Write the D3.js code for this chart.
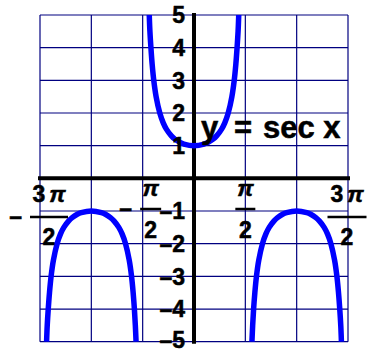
<!DOCTYPE html>
<html>
<head>
<meta charset="utf-8">
<script src="https://cdn.jsdelivr.net/npm/d3@7"></script>
<style>
    body { margin: 0; background: #fff; }
    svg { display: block; }
    text { stroke: black; stroke-width: 0.5px; }
</style>
</head>
<body>
<svg id="drawing_region"></svg>
<script>
const PI = Math.PI;

// grid lines: x in multiples of pi, y in units
const gridX = [-1.5, -1, -0.5, 0, 0.5, 1, 1.5];
const gridY = [-5, -4, -3, -2, -1, 0, 1, 2, 3, 4, 5];

// y tick labels
const yTicks = [5, 4, 3, 2, 1, -1, -2, -3, -4, -5];

// x tick labels (fractions of pi)
const xTicks = [-1.5, -0.5, 0.5, 1.5];
const xTickSign = ["\u2013", "\u2013", "", ""];
const xTickNum = ["3", "", "", "3"];
const xTickDen = ["2", "2", "2", "2"];

// points (x in radians)
const leftX  = [-4.511, -4.491, -4.460, -4.422, -4.373, -4.301, -4.189, -4.084, -3.983, -3.834, -3.728, -3.572, -3.451, -3.142,
                -2.833, -2.712, -2.556, -2.450, -2.301, -2.200, -2.095, -1.983, -1.911, -1.862, -1.824, -1.795, -1.773];
const leftY  = [-5, -4.5, -4, -3.5, -3, -2.5, -2, -1.7, -1.5, -1.3, -1.2, -1.1, -1.05, -1,
                -1.05, -1.1, -1.2, -1.3, -1.5, -1.7, -2, -2.5, -3, -3.5, -4, -4.5, -5];
const midX   = [-1.369, -1.349, -1.318, -1.281, -1.231, -1.159, -1.047, -0.942, -0.841, -0.692, -0.586, -0.430, -0.309, 0,
                0.309, 0.430, 0.586, 0.692, 0.841, 0.942, 1.047, 1.159, 1.231, 1.281, 1.318, 1.349, 1.369];
const midY   = [5, 4.5, 4, 3.5, 3, 2.5, 2, 1.7, 1.5, 1.3, 1.2, 1.1, 1.05, 1,
                1.05, 1.1, 1.2, 1.3, 1.5, 1.7, 2, 2.5, 3, 3.5, 4, 4.5, 5];
const rightX = [1.773, 1.795, 1.824, 1.862, 1.911, 1.983, 2.095, 2.200, 2.301, 2.450, 2.556, 2.712, 2.833, 3.142,
                3.451, 3.572, 3.728, 3.834, 3.983, 4.084, 4.189, 4.301, 4.373, 4.422, 4.460, 4.491, 4.511];
const rightY = [-5, -4.5, -4, -3.5, -3, -2.5, -2, -1.7, -1.5, -1.3, -1.2, -1.1, -1.05, -1,
                -1.05, -1.1, -1.2, -1.3, -1.5, -1.7, -2, -2.5, -3, -3.5, -4, -4.5, -5];

const branches = [
    leftX.map((x, i) => ({ x: x, y: leftY[i] })),
    midX.map((x, i) => ({ x: x, y: midY[i] })),
    rightX.map((x, i) => ({ x: x, y: rightY[i] }))
];

class SecantChart {

    constructor( config, branches ) {
        this.config = {
            parent: config.parent,
            width: config.width || 367,
            height: config.height || 352
        }
        this.branches = branches;
        this.init();
    }

    init() {
        let self = this;

        self.svg = d3.select( self.config.parent )
            .attr('width', self.config.width)
            .attr('height', self.config.height);

        self.xscale = d3.scaleLinear()
            .domain([-1.5 * PI, 1.5 * PI])
            .range([40, 348]);

        self.yscale = d3.scaleLinear()
            .domain([-5, 5])
            .range([341.7, 15]);

        self.line = d3.line()
            .x(d => self.xscale(d.x))
            .y(d => self.yscale(d.y))
            .curve(d3.curveCatmullRom.alpha(0.5));

        self.font = "'Liberation Sans', Arial, sans-serif";
    }

    update() {
        let self = this;
        self.render();
    }

    render() {
        let self = this;
        const x = self.xscale, y = self.yscale;

        // grid
        self.svg.append('g').selectAll('line')
            .data(gridX).enter().append('line')
            .attr('x1', d => x(d * PI)).attr('x2', d => x(d * PI))
            .attr('y1', y(5)).attr('y2', y(-5))
            .attr('stroke', '#000080').attr('stroke-width', 1.2);

        self.svg.append('g').selectAll('line')
            .data(gridY).enter().append('line')
            .attr('x1', x(-1.5 * PI)).attr('x2', x(1.5 * PI))
            .attr('y1', d => y(d)).attr('y2', d => y(d))
            .attr('stroke', '#000080').attr('stroke-width', 1.2);

        // axes
        self.svg.append('line')
            .attr('x1', x(-1.5 * PI) - 2).attr('x2', x(1.5 * PI) + 2)
            .attr('y1', y(0)).attr('y2', y(0))
            .attr('stroke', 'black').attr('stroke-width', 4);

        self.svg.append('line')
            .attr('x1', x(0)).attr('x2', x(0))
            .attr('y1', y(5) - 2).attr('y2', y(-5) + 2)
            .attr('stroke', 'black').attr('stroke-width', 4);

        // curve
        self.svg.append('g').selectAll('path')
            .data(self.branches).enter().append('path')
            .attr('d', self.line)
            .attr('fill', 'none')
            .attr('stroke', '#0000ff')
            .attr('stroke-width', 5.5);

        // y tick labels
        self.svg.append('g').selectAll('text')
            .data(yTicks).enter().append('text')
            .attr('x', x(0) - 9)
            .attr('y', d => d === -5 ? y(d) - 2 : y(d))
            .attr('dy', '0.36em')
            .attr('text-anchor', 'end')
            .style('font-family', self.font)
            .style('font-weight', 'bold')
            .style('font-size', '23px')
            .text(d => d < 0 ? '\u2013' + Math.abs(d) : d);

        // x tick labels as stacked fractions
        const shift = [9, 8, 0, -1];
        const barY  = [217, 209, 209, 217];
        const barW  = [38, 21, 20, 39];
        const labels = self.svg.append('g').selectAll('g')
            .data(xTicks).enter().append('g')
            .attr('transform', (d, i) => `translate(${x(d * PI) + shift[i]}, ${barY[i]})`)
            .style('font-family', self.font)
            .style('font-weight', 'bold')
            .style('font-size', '23px');

        labels.append('line')
            .attr('x1', (d, i) => -barW[i] / 2).attr('x2', (d, i) => barW[i] / 2)
            .attr('y1', 0).attr('y2', 0)
            .attr('stroke', 'black').attr('stroke-width', 2.5);

        const num = labels.append('text')
            .attr('y', (d, i) => xTickNum[i] ? -15 : -13)
            .attr('text-anchor', 'middle');
        num.append('tspan').text((d, i) => xTickNum[i]);
        num.append('tspan')
            .attr('dx', (d, i) => xTickNum[i] ? 4 : 0)
            .style('font-style', 'italic')
            .text('\u03c0');

        labels.append('text')
            .attr('y', (d, i) => xTickNum[i] ? 28 : 29)
            .attr('text-anchor', 'middle')
            .text((d, i) => xTickDen[i]);

        labels.append('text')
            .attr('x', (d, i) => -barW[i] / 2 - 8)
            .attr('y', 7)
            .attr('text-anchor', 'end')
            .text((d, i) => xTickSign[i]);

        // title
        const title = self.svg.append('text')
            .attr('y', 138)
            .style('font-family', self.font)
            .style('font-weight', 'bold')
            .style('font-size', '31px');
        title.append('tspan').attr('x', 201).text('y');
        title.append('tspan').attr('x', 234).text('=');
        title.append('tspan').attr('x', 263).text('sec x');
    }
}

var config = {
    parent: '#drawing_region',
    width: 367,
    height: 352
};

const chart = new SecantChart( config, branches );
chart.update();
</script>
</body>
</html>
